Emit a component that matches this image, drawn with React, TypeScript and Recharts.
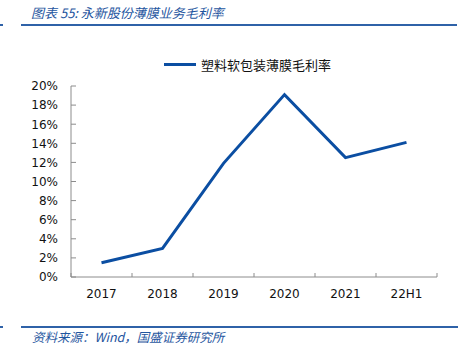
import { Line, LineChart, XAxis, YAxis } from 'recharts'

// 永新股份 film business gross margin
const years = ['2017', '2018', '2019', '2020', '2021', '22H1']
const grossMargin = [1.5, 3.0, 11.9, 19.1, 12.5, 14.1]
const yTicks = [0, 2, 4, 6, 8, 10, 12, 14, 16, 18, 20]
const seriesName = '塑料软包装薄膜毛利率'

const BLUE = '#0b4ea2'
const RULE = '#2f62a8'
const AXIS = '#8c8c8c'
const FONT = '"DejaVu Sans", Tahoma, sans-serif'
const CJK = '"Noto Sans CJK SC", sans-serif'

// numeric x so tick marks can sit between categories (Excel style)
const data = years.map((year, i) => ({ year, pos: i + 0.5, value: grossMargin[i] }))
const xTicks = [
  ...years.map((_, i) => i),
  years.length,
  ...years.map((_, i) => i + 0.5),
].sort((a, b) => a - b)

function XTick({ x, y, payload }: any) {
  const v = payload.value as number
  if (Number.isInteger(v)) {
    return <line x1={x} x2={x} y1={y} y2={y - 4} stroke={AXIS} strokeWidth={1} />
  }
  return (
    <text x={x} y={y + 21} textAnchor="middle" fontSize={12} fontFamily={FONT} fill="#111">
      {years[Math.floor(v)]}
    </text>
  )
}

function YTick({ x, y, payload }: any) {
  return (
    <g>
      <line x1={x} x2={x + 5} y1={y} y2={y} stroke={AXIS} strokeWidth={1} />
      <text x={x - 13} y={y} dy="0.36em" textAnchor="end" fontSize={12} fontFamily={FONT} fill="#111">
        {`${payload.value}%`}
      </text>
    </g>
  )
}

export default function App() {
  return (
    <div style={{ position: 'absolute', left: 0, top: 0, width: 466, height: 354, background: '#fff' }}>
      <div
        style={{
          position: 'absolute',
          left: 31,
          top: 3,
          fontFamily: CJK,
          fontSize: 13,
          fontStyle: 'italic',
          color: '#1f56a0',
          whiteSpace: 'nowrap',
        }}
      >
        图表 55: 永新股份薄膜业务毛利率
      </div>
      <div style={{ position: 'absolute', left: 0, top: 24, width: 3, height: 2, background: RULE }} />
      <div style={{ position: 'absolute', left: 21, top: 24, width: 436, height: 2, background: RULE }} />

      <LineChart
        width={466}
        height={354}
        data={data}
        margin={{ top: 86, right: 29, bottom: 0, left: 0 }}
      >
        <XAxis
          type="number"
          dataKey="pos"
          domain={[0, years.length]}
          ticks={xTicks}
          interval={0}
          tickLine={false}
          tickSize={0}
          tickMargin={0}
          height={77}
          stroke={AXIS}
          tick={<XTick />}
        />
        <YAxis
          type="number"
          domain={[0, 20]}
          ticks={yTicks}
          interval={0}
          width={71}
          tickLine={false}
          tickSize={0}
          tickMargin={0}
          stroke={AXIS}
          tick={<YTick />}
        />
        <Line
          type="linear"
          dataKey="value"
          name={seriesName}
          stroke={BLUE}
          strokeWidth={3}
          dot={false}
          activeDot={false}
          isAnimationActive={false}
        />
      </LineChart>

      {/* legend */}
      <div
        style={{
          position: 'absolute',
          left: 164,
          top: 55,
          display: 'flex',
          alignItems: 'center',
          fontFamily: CJK,
          fontSize: 13,
          color: '#111',
          whiteSpace: 'nowrap',
        }}
      >
        <span style={{ display: 'inline-block', width: 32, height: 3, background: BLUE, marginRight: 5 }} />
        <span>{seriesName}</span>
      </div>

      <div style={{ position: 'absolute', left: 0, top: 326, width: 3, height: 2, background: RULE }} />
      <div style={{ position: 'absolute', left: 21, top: 326, width: 437, height: 2, background: RULE }} />
      <div
        style={{
          position: 'absolute',
          left: 32,
          top: 327,
          fontFamily: CJK,
          fontSize: 12.5,
          fontStyle: 'italic',
          color: '#1f56a0',
          whiteSpace: 'nowrap',
        }}
      >
        资料来源：Wind，国盛证券研究所
      </div>
    </div>
  )
}
